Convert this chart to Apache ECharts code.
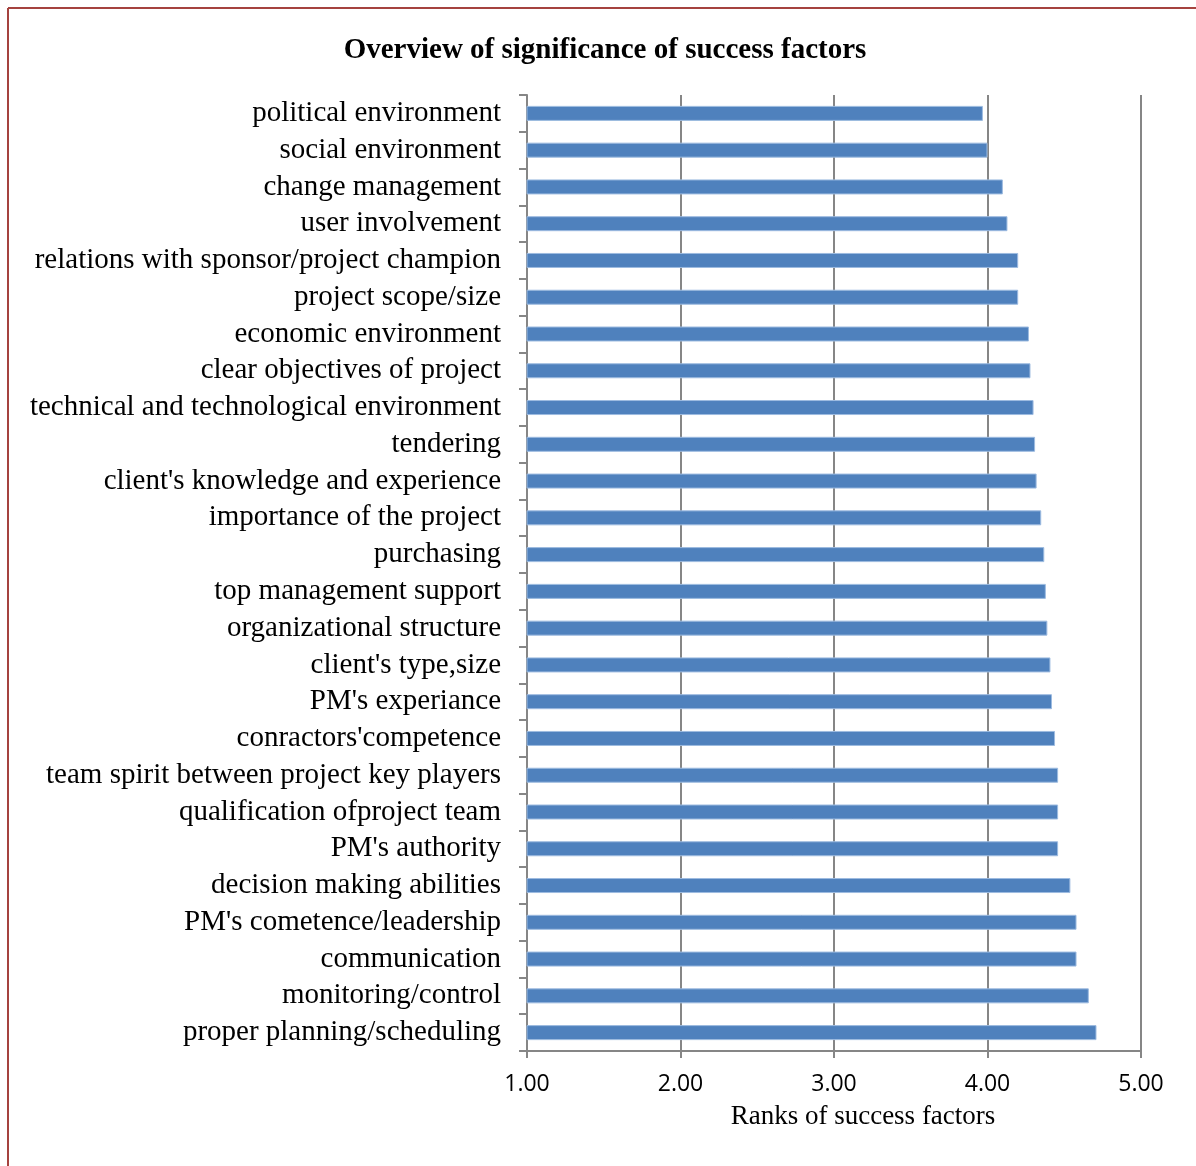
<!DOCTYPE html>
<html>
<head>
<meta charset="utf-8">
<script src="https://cdn.jsdelivr.net/npm/echarts@6/dist/echarts.min.js"></script>
<style>
html,body{margin:0;padding:0;background:#fff;}
#chart{width:1196px;height:1166px;}
</style>
</head>
<body>
<div id="chart"></div>
<script>
// Categories listed top to bottom as in the reference
const categories = [
  "political environment",
  "social environment",
  "change management",
  "user involvement",
  "relations with sponsor/project champion",
  "project scope/size",
  "economic environment",
  "clear objectives of project",
  "technical and technological environment",
  "tendering",
  "client's knowledge and experience",
  "importance of the project",
  "purchasing",
  "top management support",
  "organizational structure",
  "client's type,size",
  "PM's experiance",
  "conractors'competence",
  "team spirit between project key players",
  "qualification ofproject team",
  "PM's authority",
  "decision making abilities",
  "PM's cometence/leadership",
  "communication",
  "monitoring/control",
  "proper planning/scheduling"
];
const ranks = [
  3.97, 4.00, 4.10, 4.13, 4.20, 4.20, 4.27, 4.28, 4.30, 4.31,
  4.32, 4.35, 4.37, 4.38, 4.39, 4.41, 4.42, 4.44, 4.46, 4.46,
  4.46, 4.54, 4.58, 4.58, 4.66, 4.71
];
const xTicks = [1, 2, 3, 4, 5];
const titleText = "Overview of significance of success factors";
const xAxisTitle = "Ranks of success factors";

const chart = echarts.init(document.getElementById('chart'), null, {renderer: 'canvas'});
const serif = "'Liberation Serif', 'Times New Roman', serif";
chart.setOption({
  animation: false,
  backgroundColor: '#ffffff',
  title: {
    text: titleText,
    left: 600, top: 31, textAlign: 'center',
    textStyle: {fontFamily: serif, fontWeight: 'bold', fontSize: 29, color: '#000'}
  },
  grid: {left: 527, right: 55, top: 95, bottom: 115, containLabel: false},
  xAxis: {
    type: 'value',
    min: xTicks[0], max: xTicks[xTicks.length - 1], interval: 1,
    axisLine: {show: true, lineStyle: {color: '#868686', width: 2}},
    axisTick: {show: true, length: 7, lineStyle: {color: '#868686', width: 2}},
    splitLine: {show: true, lineStyle: {color: '#868686', width: 2}},
    axisLabel: {
      margin: 22, color: '#000', fontFamily: "'Open Sans', sans-serif", fontSize: 23,
      formatter: v => v.toFixed(2)
    }
  },
  yAxis: {
    type: 'category',
    inverse: true,
    data: categories,
    axisLine: {show: true, lineStyle: {color: '#868686', width: 2}},
    axisTick: {show: true, interval: 0, length: 8, lineStyle: {color: '#868686', width: 2}},
    axisLabel: {interval: 0, margin: 26, color: '#000', fontFamily: serif, fontSize: 29, lineHeight: 32, padding: [9, 0, 0, 0]}
  },
  series: [{
    type: 'bar',
    data: ranks,
    barWidth: 15,
    itemStyle: {color: '#4F81BD', borderColor: '#9DBBE0', borderWidth: 1}
  }],
  graphic: [
    {type: 'line', shape: {x1: 8, y1: 8, x2: 1196, y2: 8}, style: {stroke: '#A5433F', lineWidth: 2}},
    {type: 'line', shape: {x1: 8, y1: 8, x2: 8, y2: 1166}, style: {stroke: '#A5433F', lineWidth: 2}},
    {type: 'text', x: 863, y: 1117, style: {text: xAxisTitle, fontFamily: serif, fontSize: 27, fill: '#000', align: 'center', verticalAlign: 'middle'}}
  ]
});
</script>
</body>
</html>
